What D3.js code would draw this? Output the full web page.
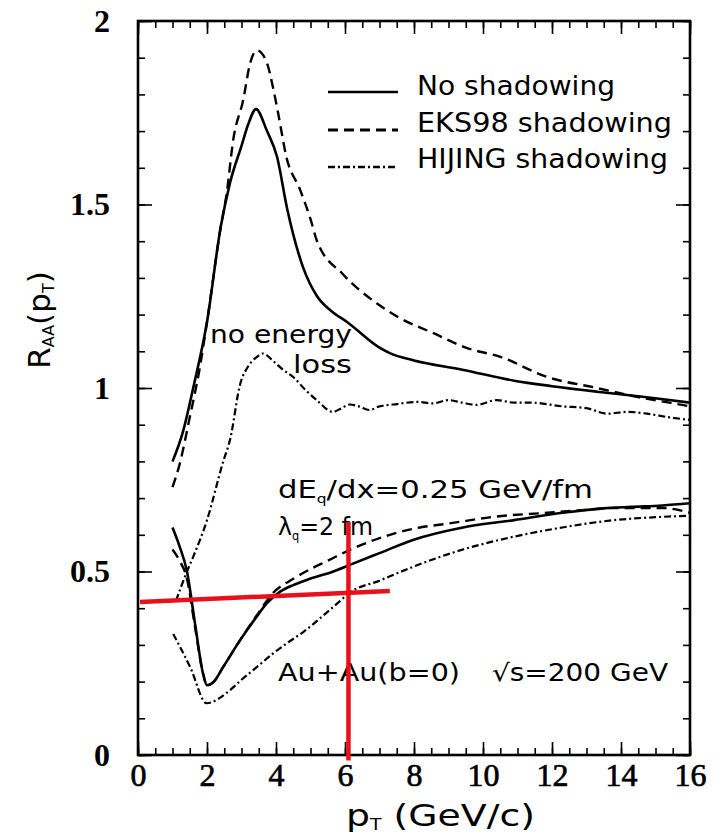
<!DOCTYPE html>
<html><head><meta charset="utf-8">
<script src="https://cdn.jsdelivr.net/npm/d3@7/dist/d3.min.js"></script>
<style>body{margin:0;background:#fff}svg{display:block}</style>
</head><body><svg id="c" width="728" height="836"></svg>
<script>
// ---------- data ----------
// no energy loss
const ptNoShadow = [1.0,1.3,1.6,2.0,2.4,2.67,3.0,3.2,3.42,3.74,4.03,4.32,4.78,5.19,5.6,6.06,7.0,7.3,8.0,9.4,10.9,12.0,13.3,14.75,16];
const rNoShadow  = [0.80,0.88,1.00,1.18,1.44,1.56,1.66,1.72,1.76,1.70,1.63,1.49,1.33,1.25,1.21,1.18,1.11,1.095,1.075,1.05,1.02,1.005,0.99,0.975,0.96];
const ptEKS = [1.0,1.2,1.5,1.8,2.0,2.4,2.57,2.76,3.05,3.25,3.45,3.74,3.91,4.06,4.3,4.7,5.0,5.19,5.94,6.93,7.6,8.55,9.5,10.5,11.86,13.3,14.5,15.4,16];
const rEKS  = [0.73,0.79,0.92,1.06,1.18,1.44,1.53,1.676,1.785,1.885,1.92,1.885,1.82,1.75,1.63,1.54,1.46,1.40,1.31,1.23,1.19,1.15,1.11,1.085,1.03,1.00,0.975,0.96,0.95];
const ptHIJING = [1.1,1.42,1.6,2.0,2.47,2.67,2.96,3.2,3.45,3.63,3.9,4.2,4.5,4.85,5.18,5.65,5.9,6.14,6.4,6.7,7.0,7.4,8.1,8.55,9.0,9.4,9.8,10.4,10.9,11.4,12.3,13.0,13.6,14.2,14.75,15.4,16];
const rHIJING  = [0.42,0.50,0.54,0.64,0.80,0.86,1.01,1.06,1.085,1.094,1.075,1.05,1.03,0.995,0.967,0.935,0.945,0.955,0.95,0.94,0.95,0.955,0.962,0.958,0.967,0.96,0.954,0.967,0.96,0.96,0.95,0.945,0.93,0.935,0.93,0.92,0.913];
// with energy loss (dE/dx = 0.25 GeV/fm)
const ptNoShadowEl = [1.0,1.2,1.42,1.65,1.89,2.0,2.2,2.47,2.96,3.44,3.73,4.12,4.5,4.89,5.66,6.14,7.0,7.97,9.42,10.9,12.3,13.5,14.3,15.2,16];
const rNoShadowEl  = [0.62,0.57,0.50,0.36,0.22,0.19,0.20,0.24,0.313,0.377,0.413,0.445,0.463,0.477,0.50,0.518,0.55,0.586,0.62,0.64,0.66,0.672,0.676,0.68,0.686];
const ptEKSEl = [1.0,1.2,1.42,1.65,1.89,2.0,2.2,2.47,2.96,3.44,3.9,4.5,5.07,5.47,6.14,7.3,8.17,8.95,10.4,11.86,13.0,13.8,15.2,16];
const rEKSEl  = [0.56,0.53,0.48,0.35,0.22,0.19,0.20,0.24,0.313,0.38,0.44,0.48,0.51,0.528,0.559,0.60,0.62,0.63,0.65,0.66,0.668,0.673,0.673,0.66];
const ptHIJINGEl = [1.02,1.51,1.99,2.58,3.0,3.45,3.92,4.4,4.79,5.37,5.86,6.1,7.0,7.98,9.42,10.9,12.3,13.8,15.0,16];
const rHIJINGEl  = [0.33,0.24,0.141,0.17,0.205,0.24,0.277,0.31,0.335,0.38,0.42,0.44,0.475,0.513,0.56,0.595,0.62,0.64,0.648,0.652];
// red marker lines drawn over the figure
const redHx = [0.06,7.3], redHy = [0.417,0.447];
const redVx = [6.1,6.1],  redVy = [0.635,-0.015];
// ticks & labels
const xTickLabels = [0,2,4,6,8,10,12,14,16];
const yTickLabels = [0,0.5,1,1.5,2];
const legendLabels = ["No shadowing","EKS98 shadowing","HIJING shadowing"];

// ---------- drawing ----------
const svg = d3.select("#c");
const X0=138, X1=690, Y0=755, Y1=21;
const x = d3.scaleLinear([0,16],[X0,X1]);
const y = d3.scaleLinear([0,2],[Y0,Y1]);
const serif = "'Liberation Serif','Times New Roman',serif";
const sans = "'DejaVu Sans',sans-serif";

function styleAxis(g){ g.select(".domain").remove(); g.selectAll(".tick line").attr("stroke","#000").attr("stroke-width",1.6); }

// minor ticks
svg.append("g").attr("transform",`translate(0,${Y0})`)
  .call(d3.axisBottom(x).tickValues(d3.range(0,16.01,0.5)).tickSizeInner(-7).tickSizeOuter(0).tickFormat(""))
  .call(styleAxis);
svg.append("g").attr("transform",`translate(0,${Y1})`)
  .call(d3.axisTop(x).tickValues(d3.range(0,16.01,0.5)).tickSizeInner(-7).tickSizeOuter(0).tickFormat(""))
  .call(styleAxis);
svg.append("g").attr("transform",`translate(${X0},0)`)
  .call(d3.axisLeft(y).tickValues(d3.range(0,2.001,0.1)).tickSizeInner(-7).tickSizeOuter(0).tickFormat(""))
  .call(styleAxis);
svg.append("g").attr("transform",`translate(${X1},0)`)
  .call(d3.axisRight(y).tickValues(d3.range(0,2.001,0.1)).tickSizeInner(-7).tickSizeOuter(0).tickFormat(""))
  .call(styleAxis);
// major ticks + labels
const gx = svg.append("g").attr("transform",`translate(0,${Y0})`)
  .call(d3.axisBottom(x).tickValues(xTickLabels).tickSizeInner(-13).tickSizeOuter(0).tickPadding(8).tickFormat(d3.format("d")))
  .call(styleAxis);
gx.selectAll("text").attr("font-family",serif).attr("font-size",32).attr("fill","#000")
  .attr("stroke","#000").attr("stroke-width",0.7);
svg.append("g").attr("transform",`translate(0,${Y1})`)
  .call(d3.axisTop(x).tickValues(xTickLabels).tickSizeInner(-13).tickSizeOuter(0).tickFormat(""))
  .call(styleAxis);
const gy = svg.append("g").attr("transform",`translate(${X0},0)`)
  .call(d3.axisLeft(y).tickValues(yTickLabels).tickSizeInner(-14).tickSizeOuter(0).tickPadding(28).tickFormat(d=>String(d)))
  .call(styleAxis);
gy.selectAll("text").attr("font-family",serif).attr("font-size",32).attr("font-weight","bold").attr("fill","#000");
svg.append("g").attr("transform",`translate(${X1},0)`)
  .call(d3.axisRight(y).tickValues(yTickLabels).tickSizeInner(-14).tickSizeOuter(0).tickFormat(""))
  .call(styleAxis);

// frame
svg.append("rect").attr("x",X0).attr("y",Y1).attr("width",X1-X0).attr("height",Y0-Y1)
  .attr("fill","none").attr("stroke","#000").attr("stroke-width",2.6);

// curves
svg.append("clipPath").attr("id","clip").append("rect").attr("x",X0).attr("y",Y1).attr("width",X1-X0).attr("height",Y0-Y1);
const line = d3.line().x(d=>x(d[0])).y(d=>y(d[1])).curve(d3.curveMonotoneX);
const DASH = "10,6", DASHDOT = "7,3,2,3";
const series = [
  [ptNoShadow,rNoShadow,null,2.6],
  [ptEKS,rEKS,DASH,2.4],
  [ptHIJING,rHIJING,DASHDOT,2.2],
  [ptNoShadowEl,rNoShadowEl,null,2.6],
  [ptEKSEl,rEKSEl,DASH,2.4],
  [ptHIJINGEl,rHIJINGEl,DASHDOT,2.2]
];
const gc = svg.append("g").attr("clip-path","url(#clip)");
series.forEach(([xs,ys,dash,w])=>{
  gc.append("path").datum(xs.map((v,i)=>[v,ys[i]]))
    .attr("d",line).attr("fill","none").attr("stroke","#000").attr("stroke-width",w)
    .attr("stroke-dasharray",dash).attr("stroke-linejoin","round");
});

// legend
const legDash=[null,DASH,DASHDOT], legY=[92,130,167], legBase=[95,132,168], legW=[198,255,251];
legendLabels.forEach((t,i)=>{
  svg.append("line").attr("x1",328).attr("x2",398).attr("y1",legY[i]).attr("y2",legY[i])
    .attr("stroke","#000").attr("stroke-width",i==1?3:2.4).attr("stroke-dasharray",legDash[i]);
  svg.append("text").attr("x",417).attr("y",legBase[i]).attr("font-family",sans).attr("font-size",26)
    .attr("textLength",legW[i]).attr("lengthAdjust","spacingAndGlyphs").text(t);
});

// annotations
function ann(xp,yp,len,size,build){
  const t=svg.append("text").attr("x",xp).attr("y",yp).attr("font-family",sans).attr("font-size",size);
  if(len) t.attr("textLength",len).attr("lengthAdjust","spacingAndGlyphs");
  build(t); return t;
}
ann(210,343,142,25,t=>t.text("no energy"));
ann(293,373,59,25,t=>t.text("loss"));
ann(278,498,315,24,t=>{t.append("tspan").text("dE");t.append("tspan").attr("font-size",12).attr("dy",5).text("q");
  t.append("tspan").attr("dy",-5).text("/dx=0.25 GeV/fm");});
ann(278,535,95,25,t=>{t.append("tspan").text("λ");t.append("tspan").attr("font-size",12).attr("dy",5).text("q");
  t.append("tspan").attr("dy",-5).text("=2 fm");});
ann(278,681,182,24,t=>t.text("Au+Au(b=0)"));
ann(492,681,176,24,t=>t.text("√s=200 GeV"));

// axis titles
const xt = svg.append("text").attr("x",346).attr("y",826).attr("font-family",sans).attr("font-size",30)
  .attr("textLength",189).attr("lengthAdjust","spacingAndGlyphs");
xt.append("tspan").text("p");
xt.append("tspan").attr("font-size",15).attr("dy",4).text("T");
xt.append("tspan").attr("dy",-4).text(" (GeV/c)");
const yt = svg.append("text").attr("transform","translate(50,320) rotate(-90)").attr("text-anchor","middle")
  .attr("font-family",sans).attr("font-size",31);
yt.append("tspan").text("R");
yt.append("tspan").attr("font-size",16).attr("dy",4).text("AA");
yt.append("tspan").attr("dy",-4).text("(p");
yt.append("tspan").attr("font-size",16).attr("dy",4).text("T");
yt.append("tspan").attr("dy",-4).text(")");

// red marker lines
const red = "#e8101a";
svg.append("path").datum(redHx.map((v,i)=>[v,redHy[i]])).attr("d",d3.line().x(d=>x(d[0])).y(d=>y(d[1])))
  .attr("stroke",red).attr("stroke-width",4.5).attr("fill","none");
svg.append("path").datum(redVx.map((v,i)=>[v,redVy[i]])).attr("d",d3.line().x(d=>x(d[0])).y(d=>y(d[1])))
  .attr("stroke",red).attr("stroke-width",4.5).attr("fill","none");
</script></body></html>
